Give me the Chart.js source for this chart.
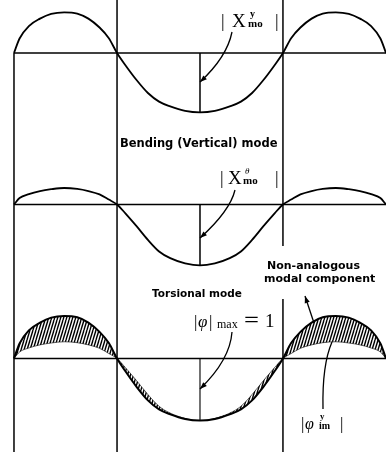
<!DOCTYPE html>
<html>
<head>
<meta charset="utf-8">
<script src="https://cdn.jsdelivr.net/npm/chart.js@4.4.1/dist/chart.umd.min.js"></script>
<style>
  html, body { margin: 0; padding: 0; background: #fff; }
</style>
</head>
<body>
<canvas id="modeChart" width="386" height="455"></canvas>
<script>
// stations along the girder (0 = left end, 1 = right end)
const spanX = [0, 0.015, 0.04, 0.07, 0.10, 0.135, 0.17, 0.20, 0.23, 0.255, 0.277,
               0.30, 0.33, 0.36, 0.39, 0.42, 0.46, 0.50, 0.54, 0.58, 0.61, 0.64, 0.67, 0.70, 0.723,
               0.745, 0.77, 0.80, 0.83, 0.865, 0.90, 0.93, 0.96, 0.985, 1.0];

// Bending (vertical) mode |X^y_mo|, scaled so the centre trough is -1
const bendingMode = [0, 0.245, 0.455, 0.58, 0.66, 0.686, 0.665, 0.58, 0.43, 0.25, 0,
                     -0.21, -0.46, -0.675, -0.82, -0.90, -0.975, -1.0, -0.975, -0.90, -0.82, -0.675, -0.46, -0.21, 0,
                     0.25, 0.43, 0.58, 0.665, 0.686, 0.66, 0.58, 0.455, 0.245, 0];

// Torsional mode |X^θ_mo|, same scaling
const torsionMode = [0, 0.105, 0.17, 0.22, 0.25, 0.27, 0.255, 0.22, 0.165, 0.08, 0,
                     -0.15, -0.36, -0.58, -0.77, -0.88, -0.965, -1.0, -0.965, -0.88, -0.77, -0.58, -0.36, -0.15, 0,
                     0.08, 0.165, 0.22, 0.255, 0.27, 0.25, 0.22, 0.17, 0.105, 0];

// supports / nodes and the mid-span station
const nodeX = [0.277, 0.723];
const midX = 0.5;

const INK = '#000';
const SERIF = '"Liberation Serif", "DejaVu Serif", serif';
const SANS = '"DejaVu Sans", sans-serif';

const canvas = document.getElementById('modeChart');
const ctx = canvas.getContext('2d');

function toPoints(ys) {
    return spanX.map((x, i) => ({ x: x, y: ys[i] }));
}
const axisLine = [{ x: 0, y: 0 }, { x: 1, y: 0 }];
const midLine = [{ x: midX, y: 0 }, { x: midX, y: -1 }];

// steep hatch for the non-analogous part
function makeHatch() {
    const tile = document.createElement('canvas');
    tile.width = 3;
    tile.height = 10;
    const g = tile.getContext('2d');
    g.strokeStyle = INK;
    g.lineWidth = 1.4;
    [-3, 0, 3].forEach(o => {
        g.beginPath();
        g.moveTo(o, 10);
        g.lineTo(o + 3, 0);
        g.stroke();
    });
    return ctx.createPattern(tile, 'repeat');
}

function curve(data, axis, width) {
    return {
        data: data, yAxisID: axis, borderColor: INK, borderWidth: width,
        pointRadius: 0, fill: false, cubicInterpolationMode: 'monotone'
    };
}
function straight(data, axis, width) {
    return {
        data: data, yAxisID: axis, borderColor: INK, borderWidth: width,
        pointRadius: 0, fill: false, tension: 0, cubicInterpolationMode: 'default'
    };
}

// vertical lines through the supports, across all three panels
const frameLines = {
    id: 'frameLines',
    beforeDatasetsDraw(chart) {
        const { ctx, chartArea, scales } = chart;
        ctx.save();
        ctx.strokeStyle = INK;
        ctx.lineWidth = 1.5;
        const runs = [[0, scales.y1.getPixelForValue(0)],
                      [nodeX[0], chartArea.top],
                      [nodeX[1], chartArea.top]];
        runs.forEach(([v, top]) => {
            const px = scales.x.getPixelForValue(v);
            ctx.beginPath();
            ctx.moveTo(px, top);
            ctx.lineTo(px, chartArea.bottom - 3);
            ctx.stroke();
        });
        ctx.restore();
    }
};

function arrow(c, sx, sy, cx, cy, ex, ey, head) {
    c.beginPath();
    c.moveTo(sx, sy);
    c.quadraticCurveTo(cx, cy, ex, ey);
    c.stroke();
    if (!head) return;
    const a = Math.atan2(ey - cy, ex - cx);
    const len = 7, hw = 2.6;
    c.beginPath();
    c.moveTo(ex, ey);
    c.lineTo(ex - len * Math.cos(a) + hw * Math.sin(a), ey - len * Math.sin(a) - hw * Math.cos(a));
    c.lineTo(ex - len * Math.cos(a) - hw * Math.sin(a), ey - len * Math.sin(a) + hw * Math.cos(a));
    c.closePath();
    c.fill();
}

function pieces(c, x0, y0, list) {
    list.forEach(p => {
        c.font = p.f;
        c.fillText(p.t, x0 + p.dx, y0 + (p.dy || 0));
    });
}

// labels, leaders and arrows
const notes = {
    id: 'notes',
    afterDatasetsDraw(chart) {
        const { ctx: c, scales } = chart;
        const mx = scales.x.getPixelForValue(midX);
        c.save();
        c.fillStyle = INK;
        c.strokeStyle = INK;
        c.lineWidth = 1.3;
        c.textBaseline = 'alphabetic';

        // label block breaks the right support line
        c.fillStyle = '#fff';
        c.fillRect(262, 246, 122, 53);
        c.fillStyle = INK;

        pieces(c, 221, 27, [
            { t: '|', f: '18px ' + SERIF, dx: 0 },
            { t: 'X', f: '19px ' + SERIF, dx: 11 },
            { t: 'y', f: 'bold 10px ' + SERIF, dx: 29, dy: -10 },
            { t: 'mo', f: 'bold 11px ' + SERIF, dx: 27, dy: 0 },
            { t: '|', f: '18px ' + SERIF, dx: 54 }
        ]);
        arrow(c, 232, 32, 227, 57, mx, scales.y1.getPixelForValue(-0.49), true);

        c.font = 'bold 11.5px ' + SANS;
        c.fillText('Bending (Vertical) mode', 120, 147);

        pieces(c, 220, 184, [
            { t: '|', f: '18px ' + SERIF, dx: 0 },
            { t: 'X', f: '19px ' + SERIF, dx: 8 },
            { t: 'θ', f: 'italic 9px ' + SERIF, dx: 25, dy: -10 },
            { t: 'mo', f: 'bold 11px ' + SERIF, dx: 23, dy: 0 },
            { t: '|', f: '18px ' + SERIF, dx: 55 }
        ]);
        arrow(c, 235, 190, 230, 211, mx, scales.y2.getPixelForValue(-0.55), true);

        c.font = 'bold 10.5px ' + SANS;
        c.fillText('Torsional mode', 152, 297);
        c.font = 'bold 11px ' + SANS;
        c.fillText('Non-analogous', 267, 269);
        c.fillText('modal component', 264, 282);

        pieces(c, 194, 327, [
            { t: '|', f: '17px ' + SERIF, dx: 0 },
            { t: 'φ', f: 'italic 17px ' + SERIF, dx: 4 },
            { t: '|', f: '17px ' + SERIF, dx: 15 },
            { t: 'max', f: '12px ' + SERIF, dx: 23, dy: 1 },
            { t: '＝', f: '17px "Noto Sans CJK JP", ' + SERIF, dx: 49, dy: -1 },
            { t: '1', f: '19px ' + SERIF, dx: 71 }
        ]);
        arrow(c, 232, 332, 230, 360, mx, scales.y3.getPixelForValue(-0.49), true);

        arrow(c, 314, 323, 309.5, 309.5, 305, 296, true);

        pieces(c, 301, 429, [
            { t: '|', f: '17px ' + SERIF, dx: 0 },
            { t: 'φ', f: 'italic 16px ' + SERIF, dx: 4 },
            { t: 'y', f: 'bold 9px ' + SERIF, dx: 19, dy: -10 },
            { t: 'im', f: 'bold 10px ' + SERIF, dx: 18, dy: 0 },
            { t: '|', f: '17px ' + SERIF, dx: 39 }
        ]);
        arrow(c, 323, 409, 322, 365, 332, 342, false);

        c.restore();
    }
};

const hatch = makeHatch();

new Chart(ctx, {
    type: 'line',
    data: {
        datasets: [
            straight(axisLine, 'y1', 1.5),
            curve(toPoints(bendingMode), 'y1', 1.8),
            straight(midLine, 'y1', 1.5),

            straight(axisLine, 'y2', 1.5),
            curve(toPoints(torsionMode), 'y2', 1.8),
            straight(midLine, 'y2', 1.5),

            straight(axisLine, 'y3', 1.5),
            curve(toPoints(bendingMode), 'y3', 2),
            Object.assign(curve(toPoints(torsionMode), 'y3', 0.6), { fill: '-1', backgroundColor: hatch }),
            straight(midLine, 'y3', 1.1)
        ]
    },
    options: {
        responsive: false,
        animation: false,
        devicePixelRatio: 1,
        layout: { padding: 0 },
        plugins: {
            legend: { display: false },
            tooltip: { enabled: false }
        },
        scales: {
            x: { type: 'linear', min: -0.0376, max: 1, bounds: 'data', display: false },
            y1: { type: 'linear', position: 'right', stack: 'modes', stackWeight: 150,
                  min: -1.636, max: 0.894, display: false },
            y2: { type: 'linear', position: 'right', stack: 'modes', stackWeight: 150,
                  min: -1.566, max: 0.893, display: false },
            y3: { type: 'linear', position: 'right', stack: 'modes', stackWeight: 155,
                  min: -1.556, max: 0.944, display: false }
        }
    },
    plugins: [frameLines, notes]
});
</script>
</body>
</html>
